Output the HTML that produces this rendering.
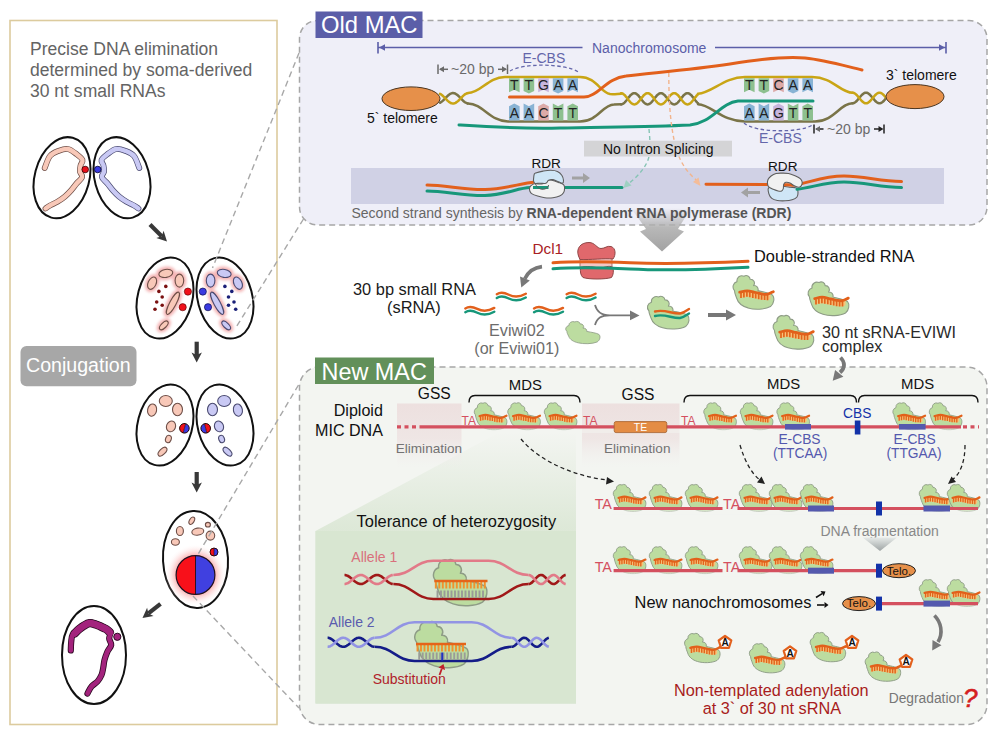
<!DOCTYPE html>
<html><head><meta charset="utf-8">
<style>
html,body{margin:0;padding:0;background:#fff;width:1000px;height:737px;overflow:hidden;}
svg{display:block;font-family:"Liberation Sans",sans-serif;}
</style></head><body>
<svg width="1000" height="737" viewBox="0 0 1000 737">
<defs>
<path id="blob" d="M0.5,15 A5.5,5.5 0 0 1 3,6 A5,5 0 0 1 10,0.6 A4,4 0 0 1 16.2,3.6 A4,4 0 0 1 19.6,10 A4,4 0 0 1 24,15 C30,16.5 36,17.5 38.5,19.5 C40.8,22 40.2,28 36.5,31 C31,34.2 20,34.3 14,32.3 C8,30.6 4,27.2 2.6,22.4 C1.6,19.4 0.5,17.5 0.5,15 Z" fill="#bcdca0" stroke="#8e9c86" stroke-width="1.1" stroke-linejoin="round"/>
<g id="comb"><path d="M5.7,16.6 L9.0,16.0 L13.1,15.2 L17.0,16.0 L21.7,16.9 L25.0,17.6 L27.9,18.3 L31.0,18.5 L33.6,18.6 L36.5,17.3 L36.5,23.3 L33.6,24.6 L31.0,24.5 L27.9,24.3 L25.0,23.6 L21.7,22.9 L17.0,22.0 L13.1,21.2 L9.0,22.0 L5.7,22.6Z" fill="#f8c27a"/><path d="M7.0,17.2 v5.2 M9.9,16.6 v5.2 M12.9,16.0 v5.2 M15.8,16.5 v5.2 M18.8,17.1 v5.2 M21.7,17.7 v5.2 M24.7,18.4 v5.2 M27.6,19.0 v5.2 M30.6,19.2 v5.2 M33.5,19.4 v5.2 " fill="none" stroke="#e0661c" stroke-width="1.7"/><path d="M5.7,16.6 C6.9,16.4 10.4,15.2 13.1,15.2 C15.8,15.2 19.2,16.4 21.7,16.9 C24.2,17.4 25.9,18.0 27.9,18.3 C29.9,18.6 31.7,19.0 33.6,18.6 C35.5,18.2 38.3,16.5 39.3,16.1" fill="none" stroke="#e2601a" stroke-width="2.8" stroke-linecap="round"/></g>
<g id="cx"><use href="#blob"/><use href="#comb"/></g>
<linearGradient id="gArrow" x1="0" y1="0" x2="0" y2="1"><stop offset="0" stop-color="#a9a9a9" stop-opacity="0"/><stop offset="0.45" stop-color="#b0b0b0" stop-opacity="0.9"/><stop offset="1" stop-color="#a2a2a2"/></linearGradient>
<linearGradient id="gTri" x1="0" y1="0" x2="0" y2="1"><stop offset="0" stop-color="#e6eae8"/><stop offset="1" stop-color="#9ea4a4"/></linearGradient>
<linearGradient id="gPink" x1="0" y1="0" x2="0" y2="1"><stop offset="0" stop-color="#ede0df"/><stop offset="0.55" stop-color="#eee4e3" stop-opacity="0.9"/><stop offset="1" stop-color="#f1eeee" stop-opacity="0"/></linearGradient>
<linearGradient id="gGreen" gradientUnits="userSpaceOnUse" x1="0" y1="432" x2="0" y2="704"><stop offset="0" stop-color="#dbe7d5" stop-opacity="0"/><stop offset="0.35" stop-color="#dbe7d5" stop-opacity="0.9"/><stop offset="1" stop-color="#d3e2cc"/></linearGradient>
<radialGradient id="gGlow"><stop offset="0.55" stop-color="#f56a6a" stop-opacity="0.9"/><stop offset="1" stop-color="#ffffff" stop-opacity="0"/></radialGradient>
<filter id="blur2" x="-50%" y="-50%" width="200%" height="200%"><feGaussianBlur stdDeviation="1.6"/></filter>
<marker id="ahG" viewBox="0 0 10 10" refX="6" refY="5" markerWidth="4" markerHeight="4" orient="auto"><path d="M0,0 L10,5 L0,10 z" fill="#7a7a7a"/></marker>
<marker id="ahK" viewBox="0 0 10 10" refX="6" refY="5" markerWidth="5" markerHeight="5" orient="auto"><path d="M0,0 L10,5 L0,10 z" fill="#222"/></marker>

</defs>
<rect x="10" y="20.5" width="267" height="704" fill="#fff" stroke="#dccb9e" stroke-width="1.6"/>
<g font-size="17.55" fill="#646464"><text x="30" y="55">Precise DNA elimination</text><text x="30" y="76">determined by soma-derived</text><text x="30" y="97">30 nt small RNAs</text></g>
<rect x="20.5" y="346" width="116" height="40.2" rx="6" fill="#a7a7a7"/>
<text x="26" y="371.5" font-size="19.6" fill="#fff">Conjugation</text>
<ellipse cx="62.0" cy="177.7" rx="27.3" ry="41.3" transform="rotate(15.0 62.0 177.7)" fill="#fff" stroke="#111" stroke-width="2"/>
<ellipse cx="122.0" cy="177.7" rx="27.3" ry="41.3" transform="rotate(-15.0 122.0 177.7)" fill="#fff" stroke="#111" stroke-width="2"/>
<path d="M44.7,168.0 C45.6,166.0 47.6,158.9 50.0,156.0 C52.4,153.1 56.0,151.9 59.0,150.7 C62.0,149.5 65.0,148.4 68.0,149.0 C71.0,149.6 74.6,152.7 77.0,154.5 C79.4,156.3 81.9,158.2 82.5,160.0 C83.1,161.8 80.9,163.6 80.5,165.5 C80.1,167.4 79.7,169.8 80.0,171.7 C80.3,173.6 82.7,175.1 82.2,177.0 C81.7,178.9 78.9,180.8 77.0,183.0 C75.1,185.2 73.0,188.2 71.0,190.5 C69.0,192.8 67.2,194.6 65.0,196.5 C62.8,198.4 60.0,200.2 57.5,201.7 C55.0,203.2 52.0,204.4 50.0,205.5 C48.0,206.6 46.2,208.0 45.5,208.5" fill="none" stroke="#6e4f48" stroke-width="5.8" stroke-linecap="round" stroke-linejoin="round"/><path d="M44.7,168.0 C45.6,166.0 47.6,158.9 50.0,156.0 C52.4,153.1 56.0,151.9 59.0,150.7 C62.0,149.5 65.0,148.4 68.0,149.0 C71.0,149.6 74.6,152.7 77.0,154.5 C79.4,156.3 81.9,158.2 82.5,160.0 C83.1,161.8 80.9,163.6 80.5,165.5 C80.1,167.4 79.7,169.8 80.0,171.7 C80.3,173.6 82.7,175.1 82.2,177.0 C81.7,178.9 78.9,180.8 77.0,183.0 C75.1,185.2 73.0,188.2 71.0,190.5 C69.0,192.8 67.2,194.6 65.0,196.5 C62.8,198.4 60.0,200.2 57.5,201.7 C55.0,203.2 52.0,204.4 50.0,205.5 C48.0,206.6 46.2,208.0 45.5,208.5" fill="none" stroke="#f8c8b8" stroke-width="4.4" stroke-linecap="round" stroke-linejoin="round"/>
<g transform="translate(184,0) scale(-1,1)"><path d="M44.7,168.0 C45.6,166.0 47.6,158.9 50.0,156.0 C52.4,153.1 56.0,151.9 59.0,150.7 C62.0,149.5 65.0,148.4 68.0,149.0 C71.0,149.6 74.6,152.7 77.0,154.5 C79.4,156.3 81.9,158.2 82.5,160.0 C83.1,161.8 80.9,163.6 80.5,165.5 C80.1,167.4 79.7,169.8 80.0,171.7 C80.3,173.6 82.7,175.1 82.2,177.0 C81.7,178.9 78.9,180.8 77.0,183.0 C75.1,185.2 73.0,188.2 71.0,190.5 C69.0,192.8 67.2,194.6 65.0,196.5 C62.8,198.4 60.0,200.2 57.5,201.7 C55.0,203.2 52.0,204.4 50.0,205.5 C48.0,206.6 46.2,208.0 45.5,208.5" fill="none" stroke="#4a4a70" stroke-width="5.8" stroke-linecap="round" stroke-linejoin="round"/><path d="M44.7,168.0 C45.6,166.0 47.6,158.9 50.0,156.0 C52.4,153.1 56.0,151.9 59.0,150.7 C62.0,149.5 65.0,148.4 68.0,149.0 C71.0,149.6 74.6,152.7 77.0,154.5 C79.4,156.3 81.9,158.2 82.5,160.0 C83.1,161.8 80.9,163.6 80.5,165.5 C80.1,167.4 79.7,169.8 80.0,171.7 C80.3,173.6 82.7,175.1 82.2,177.0 C81.7,178.9 78.9,180.8 77.0,183.0 C75.1,185.2 73.0,188.2 71.0,190.5 C69.0,192.8 67.2,194.6 65.0,196.5 C62.8,198.4 60.0,200.2 57.5,201.7 C55.0,203.2 52.0,204.4 50.0,205.5 C48.0,206.6 46.2,208.0 45.5,208.5" fill="none" stroke="#c9c9f4" stroke-width="4.4" stroke-linecap="round" stroke-linejoin="round"/></g>
<circle cx="85.2" cy="169.5" r="3.3" fill="#e8101a" stroke="#300" stroke-width="0.8"/>
<circle cx="97.7" cy="169.5" r="3.3" fill="#3a3ae0" stroke="#003" stroke-width="0.8"/>
<ellipse cx="165.0" cy="298.0" rx="27.3" ry="41.3" transform="rotate(15.0 165.0 298.0)" fill="#fff" stroke="#111" stroke-width="2"/>
<ellipse cx="225.0" cy="298.0" rx="27.3" ry="41.3" transform="rotate(-15.0 225.0 298.0)" fill="#fff" stroke="#111" stroke-width="2"/>
<g filter="url(#blur2)"><ellipse cx="152.1" cy="283.2" rx="4.0" ry="6.5" transform="rotate(25 152.1 283.2)" fill="#f4b4b4" stroke="#f4b4b4" stroke-width="5.5"/><ellipse cx="165.8" cy="273.4" rx="7.0" ry="4.0" transform="rotate(-10 165.8 273.4)" fill="#f4b4b4" stroke="#f4b4b4" stroke-width="5.5"/><ellipse cx="179.4" cy="280.6" rx="4.3" ry="6.5" transform="rotate(0 179.4 280.6)" fill="#f4b4b4" stroke="#f4b4b4" stroke-width="5.5"/><ellipse cx="172.9" cy="303.3" rx="3.2" ry="12.5" transform="rotate(28 172.9 303.3)" fill="#f4b4b4" stroke="#f4b4b4" stroke-width="5.5"/><ellipse cx="163.8" cy="325.4" rx="2.6" ry="5.5" transform="rotate(45 163.8 325.4)" fill="#f4b4b4" stroke="#f4b4b4" stroke-width="5.5"/></g><ellipse cx="152.1" cy="283.2" rx="4.0" ry="6.5" transform="rotate(25 152.1 283.2)" fill="#f8c8b8" stroke="#6e4f48" stroke-width="1.1"/><ellipse cx="165.8" cy="273.4" rx="7.0" ry="4.0" transform="rotate(-10 165.8 273.4)" fill="#f8c8b8" stroke="#6e4f48" stroke-width="1.1"/><ellipse cx="179.4" cy="280.6" rx="4.3" ry="6.5" transform="rotate(0 179.4 280.6)" fill="#f8c8b8" stroke="#6e4f48" stroke-width="1.1"/><ellipse cx="172.9" cy="303.3" rx="3.2" ry="12.5" transform="rotate(28 172.9 303.3)" fill="#f8c8b8" stroke="#6e4f48" stroke-width="1.1"/><ellipse cx="163.8" cy="325.4" rx="2.6" ry="5.5" transform="rotate(45 163.8 325.4)" fill="#f8c8b8" stroke="#6e4f48" stroke-width="1.1"/>
<g transform="translate(390,0) scale(-1,1)"><g filter="url(#blur2)"><ellipse cx="152.1" cy="283.2" rx="4.0" ry="6.5" transform="rotate(25 152.1 283.2)" fill="#f4b4b4" stroke="#f4b4b4" stroke-width="5.5"/><ellipse cx="165.8" cy="273.4" rx="7.0" ry="4.0" transform="rotate(-10 165.8 273.4)" fill="#f4b4b4" stroke="#f4b4b4" stroke-width="5.5"/><ellipse cx="179.4" cy="280.6" rx="4.3" ry="6.5" transform="rotate(0 179.4 280.6)" fill="#f4b4b4" stroke="#f4b4b4" stroke-width="5.5"/><ellipse cx="172.9" cy="303.3" rx="3.2" ry="12.5" transform="rotate(28 172.9 303.3)" fill="#f4b4b4" stroke="#f4b4b4" stroke-width="5.5"/><ellipse cx="163.8" cy="325.4" rx="2.6" ry="5.5" transform="rotate(45 163.8 325.4)" fill="#f4b4b4" stroke="#f4b4b4" stroke-width="5.5"/></g><ellipse cx="152.1" cy="283.2" rx="4.0" ry="6.5" transform="rotate(25 152.1 283.2)" fill="#c9c9f4" stroke="#4a4a70" stroke-width="1.1"/><ellipse cx="165.8" cy="273.4" rx="7.0" ry="4.0" transform="rotate(-10 165.8 273.4)" fill="#c9c9f4" stroke="#4a4a70" stroke-width="1.1"/><ellipse cx="179.4" cy="280.6" rx="4.3" ry="6.5" transform="rotate(0 179.4 280.6)" fill="#c9c9f4" stroke="#4a4a70" stroke-width="1.1"/><ellipse cx="172.9" cy="303.3" rx="3.2" ry="12.5" transform="rotate(28 172.9 303.3)" fill="#c9c9f4" stroke="#4a4a70" stroke-width="1.1"/><ellipse cx="163.8" cy="325.4" rx="2.6" ry="5.5" transform="rotate(45 163.8 325.4)" fill="#c9c9f4" stroke="#4a4a70" stroke-width="1.1"/></g>
<circle cx="165.8" cy="286.4" r="1.8" fill="#7a1010"/>
<circle cx="224.9" cy="286.4" r="1.8" fill="#1a2078"/>
<circle cx="158.9" cy="291.4" r="1.8" fill="#7a1010"/>
<circle cx="231.8" cy="291.4" r="1.8" fill="#1a2078"/>
<circle cx="162.2" cy="297.0" r="1.8" fill="#7a1010"/>
<circle cx="228.5" cy="297.0" r="1.8" fill="#1a2078"/>
<circle cx="156.7" cy="302.0" r="1.8" fill="#7a1010"/>
<circle cx="234.0" cy="302.0" r="1.8" fill="#1a2078"/>
<circle cx="162.2" cy="305.3" r="1.8" fill="#7a1010"/>
<circle cx="228.5" cy="305.3" r="1.8" fill="#1a2078"/>
<circle cx="155.0" cy="309.2" r="1.8" fill="#7a1010"/>
<circle cx="235.7" cy="309.2" r="1.8" fill="#1a2078"/>
<circle cx="187.9" cy="291.6" r="3.6" fill="#f0101a" stroke="#500" stroke-width="0.6"/><circle cx="182.7" cy="307.2" r="3.6" fill="#f0101a" stroke="#500" stroke-width="0.6"/>
<circle cx="202.8" cy="291.6" r="3.6" fill="#3a3ae0" stroke="#003" stroke-width="0.6"/><circle cx="208" cy="307.2" r="3.6" fill="#3a3ae0" stroke="#003" stroke-width="0.6"/>
<ellipse cx="165.0" cy="425.0" rx="27.3" ry="41.3" transform="rotate(15.0 165.0 425.0)" fill="#fff" stroke="#111" stroke-width="2"/>
<ellipse cx="225.0" cy="425.0" rx="27.3" ry="41.3" transform="rotate(-15.0 225.0 425.0)" fill="#fff" stroke="#111" stroke-width="2"/>
<ellipse cx="165.8" cy="401.0" rx="6.5" ry="5.5" transform="rotate(0 165.8 401.0)" fill="#f8c8b8" stroke="#6e4f48" stroke-width="1.1"/><ellipse cx="152.1" cy="410.1" rx="4.5" ry="6.2" transform="rotate(10 152.1 410.1)" fill="#f8c8b8" stroke="#6e4f48" stroke-width="1.1"/><ellipse cx="177.5" cy="409.5" rx="5.0" ry="6.3" transform="rotate(0 177.5 409.5)" fill="#f8c8b8" stroke="#6e4f48" stroke-width="1.1"/><ellipse cx="171.0" cy="426.4" rx="4.5" ry="5.5" transform="rotate(20 171.0 426.4)" fill="#f8c8b8" stroke="#6e4f48" stroke-width="1.1"/><ellipse cx="168.4" cy="439.0" rx="2.8" ry="3.8" transform="rotate(20 168.4 439.0)" fill="#f8c8b8" stroke="#6e4f48" stroke-width="1.1"/><ellipse cx="162.5" cy="451.7" rx="2.8" ry="5.5" transform="rotate(45 162.5 451.7)" fill="#f8c8b8" stroke="#6e4f48" stroke-width="1.1"/>
<g transform="translate(390,0) scale(-1,1)"><ellipse cx="165.8" cy="401.0" rx="6.5" ry="5.5" transform="rotate(0 165.8 401.0)" fill="#c9c9f4" stroke="#4a4a70" stroke-width="1.1"/><ellipse cx="152.1" cy="410.1" rx="4.5" ry="6.2" transform="rotate(10 152.1 410.1)" fill="#c9c9f4" stroke="#4a4a70" stroke-width="1.1"/><ellipse cx="177.5" cy="409.5" rx="5.0" ry="6.3" transform="rotate(0 177.5 409.5)" fill="#c9c9f4" stroke="#4a4a70" stroke-width="1.1"/><ellipse cx="171.0" cy="426.4" rx="4.5" ry="5.5" transform="rotate(20 171.0 426.4)" fill="#c9c9f4" stroke="#4a4a70" stroke-width="1.1"/><ellipse cx="168.4" cy="439.0" rx="2.8" ry="3.8" transform="rotate(20 168.4 439.0)" fill="#c9c9f4" stroke="#4a4a70" stroke-width="1.1"/><ellipse cx="162.5" cy="451.7" rx="2.8" ry="5.5" transform="rotate(45 162.5 451.7)" fill="#c9c9f4" stroke="#4a4a70" stroke-width="1.1"/></g>
<g transform="rotate(15 184.4 428.3)"><path d="M184.4,423.5 A4.8,4.8 0 0 0 184.4,433.1 Z" fill="#f0101a"/><path d="M184.4,423.5 A4.8,4.8 0 0 1 184.4,433.1 Z" fill="#3a3ae0"/><line x1="184.4" y1="423.5" x2="184.4" y2="433.1" stroke="#300" stroke-width="0.6"/><circle cx="184.4" cy="428.3" r="4.8" fill="none" stroke="#200" stroke-width="0.9"/></g>
<g transform="rotate(-15 205.7 428.3)"><path d="M205.7,423.5 A4.8,4.8 0 0 0 205.7,433.1 Z" fill="#3a3ae0"/><path d="M205.7,423.5 A4.8,4.8 0 0 1 205.7,433.1 Z" fill="#f0101a"/><line x1="205.7" y1="423.5" x2="205.7" y2="433.1" stroke="#300" stroke-width="0.6"/><circle cx="205.7" cy="428.3" r="4.8" fill="none" stroke="#200" stroke-width="0.9"/></g>
<ellipse cx="195.5" cy="559.5" rx="32.5" ry="48.5" transform="rotate(-3.0 195.5 559.5)" fill="#fff" stroke="#111" stroke-width="2"/>
<circle cx="195.5" cy="575" r="31" fill="url(#gGlow)" opacity="0.8"/>
<ellipse cx="191.8" cy="520.7" rx="2.3" ry="4.0" transform="rotate(30 191.8 520.7)" fill="#f8c8b8" stroke="#6e4f48" stroke-width="1.1"/><ellipse cx="179.9" cy="531.0" rx="3.5" ry="4.5" transform="rotate(0 179.9 531.0)" fill="#f8c8b8" stroke="#6e4f48" stroke-width="1.1"/><ellipse cx="197.8" cy="531.6" rx="6.0" ry="3.5" transform="rotate(-10 197.8 531.6)" fill="#f8c8b8" stroke="#6e4f48" stroke-width="1.1"/><ellipse cx="207.9" cy="524.7" rx="2.5" ry="2.3" transform="rotate(0 207.9 524.7)" fill="#f8c8b8" stroke="#6e4f48" stroke-width="1.1"/><ellipse cx="210.4" cy="535.6" rx="4.3" ry="4.5" transform="rotate(0 210.4 535.6)" fill="#f8c8b8" stroke="#6e4f48" stroke-width="1.1"/><ellipse cx="175.4" cy="542.0" rx="4.0" ry="3.3" transform="rotate(0 175.4 542.0)" fill="#f8c8b8" stroke="#6e4f48" stroke-width="1.1"/>
<g transform="rotate(0 214.0 552.0)"><path d="M214.0,548.0 A4.0,4.0 0 0 0 214.0,556.0 Z" fill="#f0101a"/><path d="M214.0,548.0 A4.0,4.0 0 0 1 214.0,556.0 Z" fill="#3a3ae0"/><line x1="214.0" y1="548.0" x2="214.0" y2="556.0" stroke="#300" stroke-width="0.6"/><circle cx="214.0" cy="552.0" r="4.0" fill="none" stroke="#200" stroke-width="0.9"/></g>
<path d="M195.5,555.6 A19.4,19.4 0 0 0 195.5,594.4 Z" fill="#f8101a"/><path d="M195.5,555.6 A19.4,19.4 0 0 1 195.5,594.4 Z" fill="#4040e0"/><line x1="195.5" y1="555.6" x2="195.5" y2="594.4" stroke="#301020" stroke-width="1"/><circle cx="195.5" cy="575" r="19.4" fill="none" stroke="#201020" stroke-width="1.2"/>
<ellipse cx="94.0" cy="655.0" rx="32.0" ry="49.0" transform="rotate(0.0 94.0 655.0)" fill="#fff" stroke="#111" stroke-width="2"/>
<g fill="none" stroke-linecap="round" stroke-linejoin="round"><path d="M70.8,650.5 C70.9,649.1 70.9,644.6 71.2,642.0 C71.5,639.4 71.4,637.1 72.5,635.0 C73.6,632.9 76.1,631.2 78.0,629.5 C79.9,627.8 82.1,626.2 84.0,625.0 C85.9,623.8 87.7,622.8 89.5,622.5 C91.3,622.2 93.2,623.0 95.0,623.5 C96.8,624.0 98.2,624.7 100.0,625.5 C101.8,626.3 104.2,627.3 106.0,628.5 C107.8,629.7 110.0,630.8 110.5,632.5 C111.0,634.2 109.1,636.4 109.2,638.5 C109.3,640.6 111.5,642.8 111.2,645.0 C110.9,647.2 108.6,649.0 107.5,651.5 C106.4,654.0 105.2,657.2 104.5,660.0 C103.8,662.8 103.7,665.5 103.2,668.0 C102.7,670.5 102.5,672.8 101.5,675.0 C100.5,677.2 99.2,679.6 97.5,681.5 C95.8,683.4 93.2,684.5 91.5,686.5 C89.8,688.5 88.2,692.3 87.5,693.5" stroke="#2a0820" stroke-width="6.2"/><path d="M74.5,633.5 C75.3,632.8 77.7,630.3 79.3,629.0 C80.9,627.7 82.3,626.6 84.0,625.6 C85.7,624.6 87.7,623.4 89.5,623.2 C91.3,623.0 93.2,623.7 95.0,624.2 C96.8,624.7 98.2,625.4 100.0,626.2 C101.8,627.0 104.3,628.0 106.0,629.0 C107.7,630.0 109.3,631.9 110.0,632.5" stroke="#2a0820" stroke-width="8.4"/><path d="M70.8,650.5 C70.9,649.1 70.9,644.6 71.2,642.0 C71.5,639.4 71.4,637.1 72.5,635.0 C73.6,632.9 76.1,631.2 78.0,629.5 C79.9,627.8 82.1,626.2 84.0,625.0 C85.9,623.8 87.7,622.8 89.5,622.5 C91.3,622.2 93.2,623.0 95.0,623.5 C96.8,624.0 98.2,624.7 100.0,625.5 C101.8,626.3 104.2,627.3 106.0,628.5 C107.8,629.7 110.0,630.8 110.5,632.5 C111.0,634.2 109.1,636.4 109.2,638.5 C109.3,640.6 111.5,642.8 111.2,645.0 C110.9,647.2 108.6,649.0 107.5,651.5 C106.4,654.0 105.2,657.2 104.5,660.0 C103.8,662.8 103.7,665.5 103.2,668.0 C102.7,670.5 102.5,672.8 101.5,675.0 C100.5,677.2 99.2,679.6 97.5,681.5 C95.8,683.4 93.2,684.5 91.5,686.5 C89.8,688.5 88.2,692.3 87.5,693.5" stroke="#a3237d" stroke-width="4.6"/><path d="M74.5,633.5 C75.3,632.8 77.7,630.3 79.3,629.0 C80.9,627.7 82.3,626.6 84.0,625.6 C85.7,624.6 87.7,623.4 89.5,623.2 C91.3,623.0 93.2,623.7 95.0,624.2 C96.8,624.7 98.2,625.4 100.0,626.2 C101.8,627.0 104.3,628.0 106.0,629.0 C107.7,630.0 109.3,631.9 110.0,632.5" stroke="#a3237d" stroke-width="6.8"/></g>
<circle cx="117.3" cy="636.8" r="4.6" fill="#fff"/><circle cx="117.3" cy="636.8" r="3.6" fill="#a3237d" stroke="#2a0820" stroke-width="1"/>
<line x1="150.0" y1="224.5" x2="161.7" y2="236.2" stroke="#383838" stroke-width="4.2"/><path d="M167.0,241.5 L156.3,238.1 L161.7,236.2 L163.6,230.8 Z" fill="#383838"/>
<line x1="196.7" y1="341.7" x2="196.7" y2="355.1" stroke="#383838" stroke-width="4.2"/><path d="M196.7,362.6 L191.5,352.6 L196.7,355.1 L201.9,352.6 Z" fill="#383838"/>
<line x1="196.7" y1="472.0" x2="196.7" y2="485.0" stroke="#383838" stroke-width="4.2"/><path d="M196.7,492.5 L191.5,482.5 L196.7,485.0 L201.9,482.5 Z" fill="#383838"/>
<line x1="160.5" y1="603.8" x2="148.4" y2="613.4" stroke="#383838" stroke-width="4.2"/><path d="M142.5,618.0 L147.1,607.7 L148.4,613.4 L153.6,615.9 Z" fill="#383838"/>
<rect x="299.5" y="20.5" width="687.5" height="204.5" rx="18" fill="#efeff8" stroke="#a6a6a6" stroke-width="1.5" stroke-dasharray="6 4"/>
<rect x="315.5" y="11.5" width="107" height="26.5" fill="#5b5ea8"/>
<text x="321" y="33" font-size="23.8" fill="#fff">Old MAC</text>
<g stroke="#5b5ea8" stroke-width="1.6" fill="none"><line x1="378" y1="47.5" x2="582.5" y2="47.5"/><line x1="715" y1="47.5" x2="946" y2="47.5"/><line x1="378" y1="42" x2="378" y2="53.5"/><line x1="946" y1="42" x2="946" y2="53.5"/></g>
<path d="M379,47.5 l6,-3.2 v6.4z M945,47.5 l-6,-3.2 v6.4z" fill="#5b5ea8"/>
<text x="592" y="52.5" font-size="14" fill="#5b5ea8">Nanochromosome</text>
<g fill="none" stroke-width="2.5" stroke-linecap="round">
<path d="M468,103.5 C483,103.6 490,121.5 508,121.5 L580,121.5 C598,121.5 602,105 614,104.5 C617,104.3 619,104.3 621,104.3" stroke="#7a7448"/>
<path d="M698,104.3 C712,105 722,121.5 745,121.5 L815,121.5 C834,121.5 840,103.3 852.5,103.3" stroke="#7a7448"/>
<path d="M440.0,102.8 L440.6,102.5 L441.2,102.1 L441.8,101.6 L442.4,101.1 L443.0,100.6 L443.6,100.0 L444.2,99.4 L444.8,98.8 L445.4,98.1 L446.0,97.5 L446.6,96.9 L447.2,96.3 L447.8,95.7 L448.4,95.2 L449.0,94.7 L449.6,94.3 L450.2,93.9 L450.8,93.6 L451.4,93.4 L452.0,93.2 L452.6,93.1 L453.2,93.1 L453.8,93.2 L454.4,93.3 L455.0,93.5 L455.6,93.8 L456.2,94.2 L456.8,94.6 L457.4,95.0 L458.0,95.5 L458.6,96.1 L459.2,96.7 L459.8,97.3 L460.4,97.9 L461.0,98.6 L461.6,99.2 L462.2,99.8 L462.8,100.4 L463.4,101.0 L464.0,101.5 L464.6,102.0 L465.2,102.4 L465.8,102.7 L466.4,103.0 L467.0,103.3 L467.6,103.4" stroke="#7a7448"/>
<path d="M621.0,104.4 L621.7,104.3 L622.4,104.1 L623.1,103.7 L623.8,103.2 L624.5,102.6 L625.2,101.9 L625.9,101.0 L626.6,100.2 L627.3,99.3 L628.0,98.3 L628.7,97.4 L629.4,96.6 L630.1,95.7 L630.8,95.0 L631.5,94.4 L632.2,93.9 L632.9,93.5 L633.6,93.3 L634.3,93.2 L635.0,93.3 L635.7,93.5 L636.4,93.9 L637.1,94.4 L637.8,95.0 L638.5,95.7 L639.2,96.6 L639.9,97.4 L640.6,98.3 L641.3,99.3 L642.0,100.2 L642.7,101.0 L643.4,101.9 L644.1,102.6 L644.8,103.2 L645.5,103.7 L646.2,104.1 L646.9,104.3 L647.6,104.4 L648.3,104.3 L649.0,104.1 L649.7,103.7 L650.4,103.2 L651.1,102.6 L651.8,101.9 L652.5,101.0 L653.2,100.2 L653.9,99.3 L654.6,98.3 L655.3,97.4 L656.0,96.6 L656.7,95.7 L657.4,95.0 L658.1,94.4 L658.8,93.9 L659.5,93.5 L660.2,93.3 L660.9,93.2 L661.6,93.3 L662.3,93.5 L663.0,93.9 L663.7,94.4 L664.4,95.0 L665.1,95.7 L665.8,96.6 L666.5,97.4 L667.2,98.3 L667.9,99.3 L668.6,100.2 L669.3,101.0 L670.0,101.9 L670.7,102.6 L671.4,103.2 L672.1,103.7 L672.8,104.1 L673.5,104.3 L674.2,104.4 L674.9,104.3 L675.6,104.1 L676.3,103.7 L677.0,103.2 L677.7,102.6 L678.4,101.9 L679.1,101.0 L679.8,100.2 L680.5,99.3 L681.2,98.3 L681.9,97.4 L682.6,96.6 L683.3,95.7 L684.0,95.0 L684.7,94.4 L685.4,93.9 L686.1,93.5 L686.8,93.3 L687.5,93.2 L688.2,93.3 L688.9,93.5 L689.6,93.9 L690.3,94.4 L691.0,95.0 L691.7,95.7 L692.4,96.6 L693.1,97.4 L693.8,98.3 L694.5,99.3 L695.2,100.2 L695.9,101.0 L696.6,101.9 L697.3,102.6 L698.0,103.2" stroke="#7a7448"/>
<path d="M852.5,103.3 L853.1,103.2 L853.7,103.1 L854.3,102.8 L854.9,102.5 L855.5,102.1 L856.1,101.5 L856.7,101.0 L857.3,100.3 L857.9,99.6 L858.5,98.9 L859.1,98.2 L859.7,97.4 L860.3,96.7 L860.9,96.0 L861.5,95.3 L862.1,94.7 L862.7,94.2 L863.3,93.7 L863.9,93.3 L864.5,93.0 L865.1,92.8 L865.7,92.7 L866.3,92.7 L866.9,92.8 L867.5,93.0 L868.1,93.3 L868.7,93.7 L869.3,94.2 L869.9,94.7 L870.5,95.4 L871.1,96.0 L871.7,96.7 L872.3,97.4 L872.9,98.2 L873.5,98.9 L874.1,99.6 L874.7,100.3 L875.3,101.0 L875.9,101.5 L876.5,102.1 L877.1,102.5 L877.7,102.8 L878.3,103.1 L878.9,103.2 L879.5,103.3 L880.1,103.2 L880.7,103.1 L881.3,102.8 L881.9,102.5 L882.5,102.1 L883.1,101.5 L883.7,101.0 L884.3,100.3 L884.9,99.6 L885.5,98.9" stroke="#7a7448"/>
<path d="M468,93.1 C481,93 488,77 505,77 L580,77 C596,77 600,92 610,94 C614,94.5 618,93.7 621,93.7" stroke="#c9a515"/>
<path d="M698,93.7 C712,93 724,77 745,77 L812,77 C833,77 840,92.7 852.5,92.7" stroke="#c9a515"/>
<path d="M440.0,93.8 L440.6,94.1 L441.2,94.5 L441.8,95.0 L442.4,95.5 L443.0,96.0 L443.6,96.6 L444.2,97.2 L444.8,97.8 L445.4,98.5 L446.0,99.1 L446.6,99.7 L447.2,100.3 L447.8,100.9 L448.4,101.4 L449.0,101.9 L449.6,102.3 L450.2,102.7 L450.8,103.0 L451.4,103.2 L452.0,103.4 L452.6,103.5 L453.2,103.5 L453.8,103.4 L454.4,103.3 L455.0,103.1 L455.6,102.8 L456.2,102.4 L456.8,102.0 L457.4,101.6 L458.0,101.1 L458.6,100.5 L459.2,99.9 L459.8,99.3 L460.4,98.7 L461.0,98.0 L461.6,97.4 L462.2,96.8 L462.8,96.2 L463.4,95.6 L464.0,95.1 L464.6,94.6 L465.2,94.2 L465.8,93.9 L466.4,93.6 L467.0,93.3 L467.6,93.2" stroke="#c9a515"/>
<path d="M621.0,93.2 L621.7,93.3 L622.4,93.5 L623.1,93.9 L623.8,94.4 L624.5,95.0 L625.2,95.7 L625.9,96.6 L626.6,97.4 L627.3,98.3 L628.0,99.3 L628.7,100.2 L629.4,101.0 L630.1,101.9 L630.8,102.6 L631.5,103.2 L632.2,103.7 L632.9,104.1 L633.6,104.3 L634.3,104.4 L635.0,104.3 L635.7,104.1 L636.4,103.7 L637.1,103.2 L637.8,102.6 L638.5,101.9 L639.2,101.0 L639.9,100.2 L640.6,99.3 L641.3,98.3 L642.0,97.4 L642.7,96.6 L643.4,95.7 L644.1,95.0 L644.8,94.4 L645.5,93.9 L646.2,93.5 L646.9,93.3 L647.6,93.2 L648.3,93.3 L649.0,93.5 L649.7,93.9 L650.4,94.4 L651.1,95.0 L651.8,95.7 L652.5,96.6 L653.2,97.4 L653.9,98.3 L654.6,99.3 L655.3,100.2 L656.0,101.0 L656.7,101.9 L657.4,102.6 L658.1,103.2 L658.8,103.7 L659.5,104.1 L660.2,104.3 L660.9,104.4 L661.6,104.3 L662.3,104.1 L663.0,103.7 L663.7,103.2 L664.4,102.6 L665.1,101.9 L665.8,101.0 L666.5,100.2 L667.2,99.3 L667.9,98.3 L668.6,97.4 L669.3,96.6 L670.0,95.7 L670.7,95.0 L671.4,94.4 L672.1,93.9 L672.8,93.5 L673.5,93.3 L674.2,93.2 L674.9,93.3 L675.6,93.5 L676.3,93.9 L677.0,94.4 L677.7,95.0 L678.4,95.7 L679.1,96.6 L679.8,97.4 L680.5,98.3 L681.2,99.3 L681.9,100.2 L682.6,101.0 L683.3,101.9 L684.0,102.6 L684.7,103.2 L685.4,103.7 L686.1,104.1 L686.8,104.3 L687.5,104.4 L688.2,104.3 L688.9,104.1 L689.6,103.7 L690.3,103.2 L691.0,102.6 L691.7,101.9 L692.4,101.0 L693.1,100.2 L693.8,99.3 L694.5,98.3 L695.2,97.4 L695.9,96.6 L696.6,95.7 L697.3,95.0 L698.0,94.4" stroke="#c9a515"/>
<path d="M852.5,92.7 L853.1,92.8 L853.7,92.9 L854.3,93.2 L854.9,93.5 L855.5,93.9 L856.1,94.5 L856.7,95.0 L857.3,95.7 L857.9,96.4 L858.5,97.1 L859.1,97.8 L859.7,98.6 L860.3,99.3 L860.9,100.0 L861.5,100.7 L862.1,101.3 L862.7,101.8 L863.3,102.3 L863.9,102.7 L864.5,103.0 L865.1,103.2 L865.7,103.3 L866.3,103.3 L866.9,103.2 L867.5,103.0 L868.1,102.7 L868.7,102.3 L869.3,101.8 L869.9,101.3 L870.5,100.6 L871.1,100.0 L871.7,99.3 L872.3,98.6 L872.9,97.8 L873.5,97.1 L874.1,96.4 L874.7,95.7 L875.3,95.0 L875.9,94.5 L876.5,93.9 L877.1,93.5 L877.7,93.2 L878.3,92.9 L878.9,92.8 L879.5,92.7 L880.1,92.8 L880.7,92.9 L881.3,93.2 L881.9,93.5 L882.5,93.9 L883.1,94.5 L883.7,95.0 L884.3,95.7 L884.9,96.4 L885.5,97.1" stroke="#c9a515"/>
</g>
<path d="M509.5,97 L584,97 C598,97 606,78 626,76 C650,73 690,70 730,64 C760,59 785,56 805,58 C825,60 845,66 862,70" fill="none" stroke="#e2601c" stroke-width="3" stroke-linecap="round"/>
<path d="M459,125 C490,127 520,129 560,128 C600,127 650,127 690,125 C712,123 720,103 738,101 L813,101" fill="none" stroke="#17977a" stroke-width="3" stroke-linecap="round"/>
<ellipse cx="411" cy="98.7" rx="29" ry="11.8" fill="#e6904a" stroke="#4a3520" stroke-width="1"/>
<ellipse cx="915" cy="96.6" rx="29" ry="12" fill="#e6904a" stroke="#4a3520" stroke-width="1"/>
<text x="367" y="123" font-size="14" fill="#111">5` telomere</text>
<text x="886" y="79.8" font-size="14" fill="#111">3` telomere</text>
<path d="M509.0,78.3 h10.6 v14.0 l-5.3,-2.6 l-5.3,2.6 z" fill="#8ec08f"/><text x="514.3" y="90.0" font-size="14" fill="#222" text-anchor="middle">T</text><path d="M523.6,78.3 h10.6 v12.7 l-5.3,2.6 l-5.3,-2.6 z" fill="#8ec08f"/><text x="528.9" y="90.0" font-size="14" fill="#222" text-anchor="middle">T</text><path d="M538.2,78.3 h10.6 v14.0 l-5.3,-2.6 l-5.3,2.6 z" fill="#c8b5dc"/><text x="543.5" y="90.0" font-size="14" fill="#222" text-anchor="middle">G</text><path d="M552.8,78.3 h10.6 v12.7 l-5.3,2.6 l-5.3,-2.6 z" fill="#89b3d4"/><text x="558.1" y="90.0" font-size="14" fill="#222" text-anchor="middle">A</text><path d="M567.4,78.3 h10.6 v14.0 l-5.3,-2.6 l-5.3,2.6 z" fill="#89b3d4"/><text x="572.7" y="90.0" font-size="14" fill="#222" text-anchor="middle">A</text>
<path d="M509.0,106.2 l5.3,-2.6 l5.3,2.6 v14.4 h-10.6 z" fill="#89b3d4"/><text x="514.3" y="118.0" font-size="14" fill="#222" text-anchor="middle">A</text><path d="M523.6,103.6 l5.3,2.6 l5.3,-2.6 v17.0 h-10.6 z" fill="#89b3d4"/><text x="528.9" y="118.0" font-size="14" fill="#222" text-anchor="middle">A</text><path d="M538.2,106.2 l5.3,-2.6 l5.3,2.6 v14.4 h-10.6 z" fill="#dcaaa8"/><text x="543.5" y="118.0" font-size="14" fill="#222" text-anchor="middle">C</text><path d="M552.8,103.6 l5.3,2.6 l5.3,-2.6 v17.0 h-10.6 z" fill="#8ec08f"/><text x="558.1" y="118.0" font-size="14" fill="#222" text-anchor="middle">T</text><path d="M567.4,106.2 l5.3,-2.6 l5.3,2.6 v14.4 h-10.6 z" fill="#8ec08f"/><text x="572.7" y="118.0" font-size="14" fill="#222" text-anchor="middle">T</text>
<path d="M744.0,78.3 h10.6 v14.0 l-5.3,-2.6 l-5.3,2.6 z" fill="#8ec08f"/><text x="749.3" y="90.0" font-size="14" fill="#222" text-anchor="middle">T</text><path d="M758.6,78.3 h10.6 v12.7 l-5.3,2.6 l-5.3,-2.6 z" fill="#8ec08f"/><text x="763.9" y="90.0" font-size="14" fill="#222" text-anchor="middle">T</text><path d="M773.2,78.3 h10.6 v14.0 l-5.3,-2.6 l-5.3,2.6 z" fill="#dcaaa8"/><text x="778.5" y="90.0" font-size="14" fill="#222" text-anchor="middle">C</text><path d="M787.8,78.3 h10.6 v12.7 l-5.3,2.6 l-5.3,-2.6 z" fill="#89b3d4"/><text x="793.1" y="90.0" font-size="14" fill="#222" text-anchor="middle">A</text><path d="M802.4,78.3 h10.6 v14.0 l-5.3,-2.6 l-5.3,2.6 z" fill="#89b3d4"/><text x="807.7" y="90.0" font-size="14" fill="#222" text-anchor="middle">A</text>
<path d="M744.0,106.2 l5.3,-2.6 l5.3,2.6 v14.4 h-10.6 z" fill="#89b3d4"/><text x="749.3" y="118.0" font-size="14" fill="#222" text-anchor="middle">A</text><path d="M758.6,103.6 l5.3,2.6 l5.3,-2.6 v17.0 h-10.6 z" fill="#89b3d4"/><text x="763.9" y="118.0" font-size="14" fill="#222" text-anchor="middle">A</text><path d="M773.2,106.2 l5.3,-2.6 l5.3,2.6 v14.4 h-10.6 z" fill="#c8b5dc"/><text x="778.5" y="118.0" font-size="14" fill="#222" text-anchor="middle">G</text><path d="M787.8,103.6 l5.3,2.6 l5.3,-2.6 v17.0 h-10.6 z" fill="#8ec08f"/><text x="793.1" y="118.0" font-size="14" fill="#222" text-anchor="middle">T</text><path d="M802.4,106.2 l5.3,-2.6 l5.3,2.6 v14.4 h-10.6 z" fill="#8ec08f"/><text x="807.7" y="118.0" font-size="14" fill="#222" text-anchor="middle">T</text>
<path d="M510,71 C522,63 566,63 579,72.5" fill="none" stroke="#6466aa" stroke-width="1.3" stroke-dasharray="3.5 2.5"/>
<text x="522.5" y="63" font-size="14" fill="#6466aa">E-CBS</text>
<path d="M744,123 C755,133 800,133 812.5,125" fill="none" stroke="#6466aa" stroke-width="1.3" stroke-dasharray="3.5 2.5"/>
<text x="759" y="143" font-size="14" fill="#6466aa">E-CBS</text>
<g stroke="#6a6a6a" stroke-width="1.5" fill="none"><line x1="438" y1="64.5" x2="438" y2="74"/><line x1="440" y1="69.3" x2="448" y2="69.3"/><line x1="498" y1="69.3" x2="506" y2="69.3"/><line x1="507.5" y1="64.5" x2="507.5" y2="74"/></g>
<path d="M439,69.3 l5,-3 v6z M507,69.3 l-5,-3 v6z" fill="#6a6a6a"/>
<text x="451" y="74" font-size="14" fill="#6a6a6a">~20 bp</text>
<g stroke="#222" stroke-width="1.5" fill="none"><line x1="814" y1="124.5" x2="814" y2="133.5"/><line x1="816" y1="129" x2="823.5" y2="129"/><line x1="874" y1="129" x2="882" y2="129"/><line x1="884" y1="124.5" x2="884" y2="133.5"/></g>
<path d="M815,129 l5,-3 v6z" fill="#6a6a6a"/><path d="M883.5,129 l-5,-3 v6z" fill="#222"/>
<text x="827" y="134" font-size="14" fill="#6a6a6a">~20 bp</text>
<rect x="351" y="168" width="593" height="36" fill="#d0d1e5"/>
<path d="M649,129 C650,140 651,152 648,160 C644,170 636,178 628,184" fill="none" stroke="#86c4b4" stroke-width="1.4" stroke-dasharray="4 3"/>
<path d="M623.5,188 l2.5,-8 l5.5,5.5z" fill="#9ed0c2"/>
<path d="M668.8,73 C668.8,100 670,125 676,148 C681,165 689,174 696.5,180" fill="none" stroke="#f2b48c" stroke-width="1.4" stroke-dasharray="4 3"/>
<path d="M700.5,186 l-7.5,-4 l5.5,-4.5z" fill="#f4bc98"/>
<rect x="584" y="140.7" width="148" height="15.8" fill="#d4d4d6"/>
<text x="603" y="153.6" font-size="14" fill="#111">No Intron Splicing</text>
<path d="M427,185 C445,185 465,190 485,189.5 C505,189 520,183.5 535,182" fill="none" stroke="#e2601c" stroke-width="3" stroke-linecap="round"/>
<path d="M427,191 C445,191 465,196 485,195.5 C505,195 518,188 530,187.6 L622,187.6" fill="none" stroke="#17977a" stroke-width="3" stroke-linecap="round"/>
<path d="M529.6,187.9 C529.8,187.0 530.2,186.4 531.0,185.7 C531.8,185.0 533.0,184.0 534.3,183.7 C535.6,183.4 537.1,184.0 538.7,184.0 C540.3,184.0 542.4,183.9 543.7,183.5 C545.0,183.1 545.5,181.9 546.4,181.3 C547.3,180.7 548.3,180.1 549.2,179.9 C550.1,179.7 550.4,179.8 551.9,180.2 C553.4,180.6 556.6,181.7 558.5,182.4 C560.4,183.1 562.5,183.7 563.5,184.6 C564.5,185.5 564.6,186.5 564.6,187.9 C564.6,189.3 564.3,191.4 563.5,192.8 C562.7,194.2 561.4,195.3 559.6,196.1 C557.9,196.9 555.5,197.5 553.0,197.8 C550.5,198.1 547.4,198.1 544.8,197.8 C542.2,197.5 539.7,196.8 537.6,196.1 C535.5,195.4 533.4,194.7 532.1,193.9 C530.8,193.1 530.3,192.2 529.9,191.2 C529.5,190.2 529.4,188.8 529.6,187.9Z" fill="#f1f1f1" stroke="#5e5e5e" stroke-width="1.1" stroke-linejoin="round"/>
<path d="M533,187.5 L548.5,187.4" stroke="#17977a" stroke-width="3"/>
<path d="M535.4,183.8 C537,187.8 540,189.4 543.1,189.3 C546,189.1 548.4,187.4 548.6,185" fill="none" stroke="#5e5e5e" stroke-width="1"/>
<path d="M533.5,179.6 C533.6,178.3 533.8,175.2 534.3,174.1 C534.8,172.9 535.0,173.2 536.5,172.7 C538.0,172.2 540.7,171.5 543.1,171.1 C545.5,170.7 548.4,170.2 550.8,170.3 C553.2,170.4 555.6,170.6 557.4,171.4 C559.2,172.2 560.8,173.7 561.8,175.2 C562.8,176.7 563.4,178.9 563.5,180.2 C563.6,181.5 563.2,182.9 562.4,183.2 C561.6,183.5 560.1,182.4 558.5,181.8 C556.9,181.2 554.6,179.9 553.0,179.6 C551.4,179.3 549.6,179.7 548.6,180.2 C547.6,180.7 547.6,181.8 547.0,182.4 C546.4,183.0 546.0,183.4 544.8,183.5 C543.6,183.6 541.4,183.2 539.8,183.2 C538.2,183.2 536.4,183.7 535.4,183.5 C534.4,183.3 534.1,182.5 533.8,181.8 C533.5,181.2 533.4,180.9 533.5,179.6Z" fill="#cfe6f6" stroke="#5e5e5e" stroke-width="1.1" stroke-linejoin="round"/>
<path d="M768.6,187.9 C767.4,189.2 768.5,192.4 769.0,194.2 C769.5,195.9 770.4,197.3 771.8,198.4 C773.2,199.5 775.2,200.1 777.4,200.5 C779.6,200.9 782.6,200.9 785.1,200.8 C787.6,200.7 790.1,200.4 792.1,199.8 C794.1,199.2 796.0,198.2 797.0,197.0 C798.0,195.8 798.0,194.2 798.0,192.8 C798.0,191.4 797.8,189.5 797.3,188.6 C796.8,187.7 796.1,187.8 794.9,187.6 C793.7,187.4 791.6,187.4 790.0,187.2 C788.4,187.0 787.3,186.6 785.0,186.5 C782.7,186.4 778.7,186.3 776.0,186.5 C773.3,186.7 769.8,186.6 768.6,187.9Z" fill="#cfe6f6" stroke="#5e5e5e" stroke-width="1.1" stroke-linejoin="round"/>
<path d="M706,184.3 L784,184.5 C790,185 795,186.2 800,184 C815,180.5 826,176 844,176 C865,176 880,181.5 901.5,181.5" fill="none" stroke="#e2601c" stroke-width="3" stroke-linecap="round"/>
<path d="M797,189.3 C812,187.5 826,182 844,182 C865,182 880,187.5 901.5,187.5" fill="none" stroke="#17977a" stroke-width="3" stroke-linecap="round"/>
<path d="M767.6,184.4 C767.4,183.1 767.4,180.9 768.0,179.5 C768.6,178.1 769.8,177.0 771.1,176.0 C772.4,175.0 774.2,174.0 776.0,173.5 C777.8,173.0 779.9,173.1 782.0,173.1 C784.1,173.1 786.3,173.0 788.6,173.5 C790.9,174.0 793.6,175.1 795.6,176.0 C797.6,176.9 799.4,177.8 800.5,178.8 C801.6,179.9 802.1,181.1 802.2,182.3 C802.3,183.5 801.8,185.0 801.2,185.8 C800.6,186.6 799.6,187.2 798.4,187.2 C797.2,187.2 795.6,186.5 794.2,185.8 C792.8,185.1 791.4,183.6 790.0,183.0 C788.6,182.4 786.8,182.1 785.8,182.3 C784.8,182.5 784.1,183.4 783.7,184.4 C783.3,185.4 783.6,187.5 783.3,188.6 C782.9,189.7 782.5,190.6 781.6,191.0 C780.7,191.4 779.5,191.3 778.1,191.0 C776.7,190.7 774.7,189.9 773.2,189.3 C771.7,188.7 769.9,188.0 769.0,187.2 C768.1,186.4 767.8,185.7 767.6,184.4Z" fill="#f1f1f1" stroke="#5e5e5e" stroke-width="1.1" stroke-linejoin="round"/>
<text x="531.4" y="168.3" font-size="13.6" fill="#111">RDR</text>
<text x="768" y="171.3" font-size="13.6" fill="#111">RDR</text>
<line x1="572.0" y1="178.0" x2="583.0" y2="178.0" stroke="#a2a2a2" stroke-width="3.0"/><path d="M590.0,178.0 L583.0,183.0 L583.0,178.0 L583.0,173.0 Z" fill="#a2a2a2"/>
<line x1="760.0" y1="192.5" x2="748.0" y2="192.5" stroke="#a2a2a2" stroke-width="3.0"/><path d="M741.0,192.5 L748.0,187.5 L748.0,192.5 L748.0,197.5 Z" fill="#a2a2a2"/>
<path d="M631,208 L691,208 L678,229 L684,231.5 L662,251.5 L640,231.5 L646,229 Z" fill="url(#gArrow)"/>
<text x="351.5" y="217.5" font-size="14" fill="#666"><tspan>Second strand synthesis by </tspan><tspan font-weight="bold" fill="#555">RNA-dependent RNA polymerase (RDR)</tspan></text>
<text x="532.5" y="254" font-size="15.3" fill="#a82024">Dcl1</text>
<rect x="580" y="256" width="32" height="12" fill="#f3c6c6" stroke="#9a5a5a" stroke-width="0.8"/>
<path d="M578.5,256 C576,249 580,242.5 589,242.5 C595,242.5 597,248.5 601,248.5 C605,248.5 607,245.5 611,246.5 C616,248 616,255 613,259 C605,258 590,260 580,259.5 Z" fill="#e0686c" stroke="#8f4848" stroke-width="1"/>
<path d="M580.5,267.5 C586,265.5 595,267 600,268.5 C605,267 609,265.5 612.5,267 C614,270 613.5,275 611.5,277.5 C605,279.5 589,279.5 583,277.5 C580.5,275.5 580,271 580.5,267.5Z" fill="#e0686c" stroke="#8f4848" stroke-width="1"/>
<path d="M553,262.8 C580,260.8 600,261.5 630,262.8 C660,264 700,263.5 748,261.3" fill="none" stroke="#e2601c" stroke-width="3" stroke-linecap="round"/>
<path d="M553,268.8 C580,266.8 600,267.5 630,269 C660,270.5 700,270 748,267.3" fill="none" stroke="#17977a" stroke-width="3" stroke-linecap="round"/>
<text x="754" y="262" font-size="16.4" fill="#111">Double-stranded RNA</text>
<path d="M542,266.6 C534,267.5 528,272 524.8,278.8" fill="none" stroke="#787878" stroke-width="3.6"/>
<path d="M521.3,287.4 L520,276.6 L529.8,280.6 Z" fill="#787878"/>
<text x="353" y="295" font-size="16.4" fill="#1a1a1a">30 bp small RNA</text>
<text x="387" y="313" font-size="16.4" fill="#1a1a1a">(sRNA)</text>
<path d="M465.3,308.4 c3.0,-2 7.0,-2 12.0,0.5 s10.0,3 17.0,-1" fill="none" stroke="#e2601c" stroke-width="2.4" stroke-linecap="round"/><path d="M465.3,312.2 c3.0,-2 7.0,-2 12.0,0.5 s10.0,3 17.0,-1" fill="none" stroke="#17977a" stroke-width="2.4" stroke-linecap="round"/>
<path d="M496.8,294.2 c3.0,-2 7.0,-2 12.0,0.5 s10.0,3 17.0,-1" fill="none" stroke="#e2601c" stroke-width="2.4" stroke-linecap="round"/><path d="M496.8,298.0 c3.0,-2 7.0,-2 12.0,0.5 s10.0,3 17.0,-1" fill="none" stroke="#17977a" stroke-width="2.4" stroke-linecap="round"/>
<path d="M534.0,308.4 c3.0,-2 7.0,-2 12.0,0.5 s10.0,3 17.0,-1" fill="none" stroke="#e2601c" stroke-width="2.4" stroke-linecap="round"/><path d="M534.0,312.2 c3.0,-2 7.0,-2 12.0,0.5 s10.0,3 17.0,-1" fill="none" stroke="#17977a" stroke-width="2.4" stroke-linecap="round"/>
<path d="M566.6,294.2 c3.0,-2 7.0,-2 12.0,0.5 s10.0,3 17.0,-1" fill="none" stroke="#e2601c" stroke-width="2.4" stroke-linecap="round"/><path d="M566.6,298.0 c3.0,-2 7.0,-2 12.0,0.5 s10.0,3 17.0,-1" fill="none" stroke="#17977a" stroke-width="2.4" stroke-linecap="round"/>
<text x="489" y="336.3" font-size="16.2" fill="#6c6c6c">Eviwi02</text>
<text x="474.3" y="353.5" font-size="16.1" fill="#6c6c6c">(or Eviwi01)</text>
<use href="#blob" transform="translate(566.5,321.5) scale(0.84,0.66)"/>
<path d="M595,305 C597,312 601,315.4 610,315.4 M595,325 C597,318 601,315.4 610,315.4 L633,315.4" fill="none" stroke="#777" stroke-width="1.8"/>
<path d="M639.5,315.4 L630,310.5 L630,320.3 Z" fill="#777"/>
<use href="#blob" transform="translate(648.4,296.4) scale(1.02,0.97)"/>
<path d="M655,311.5 C665,309 672,314 680,313.5 C684,313 687,310 689,309" fill="none" stroke="#e2601c" stroke-width="2.4" stroke-linecap="round"/>
<path d="M655,316 C665,313.5 672,318.5 680,318 C684,317.5 687,314.5 689,313.5" fill="none" stroke="#17977a" stroke-width="2.4" stroke-linecap="round"/>
<line x1="708.0" y1="315.0" x2="726.0" y2="315.0" stroke="#777" stroke-width="4.0"/><path d="M736.0,315.0 L726.0,320.5 L726.0,315.0 L726.0,309.5 Z" fill="#777"/>
<use href="#cx" transform="translate(734.0,275.6) scale(1.00)"/>
<use href="#cx" transform="translate(809.0,282.0) scale(1.00)"/>
<use href="#cx" transform="translate(774.0,315.5) scale(1.00)"/>
<text x="822" y="338" font-size="16.2" fill="#2a2a2a">30 nt sRNA-EVIWI</text>
<text x="822" y="352.3" font-size="16.2" fill="#2a2a2a">complex</text>
<rect x="299.5" y="367" width="687.5" height="357.5" rx="20" fill="#f3f5f1" stroke="#a6a6a6" stroke-width="1.5" stroke-dasharray="6 4"/>
<rect x="315" y="357.5" width="119" height="26.5" fill="#62905a"/>
<text x="321.5" y="379.5" font-size="23.4" fill="#fff">New MAC</text>
<path d="M840.5,357.5 C845,362 845.5,368 840,372.5" fill="none" stroke="#787878" stroke-width="3.8"/>
<path d="M832.7,380.7 L835.1,370 L843.4,376.7 Z" fill="#787878"/>
<path d="M315.5,531 L500,432 L576,432 L576,703.5 L315.5,703.5 Z" fill="url(#gGreen)"/>
<rect x="397" y="403.5" width="64.5" height="64" fill="url(#gPink)"/>
<rect x="582" y="403.5" width="97.5" height="64" fill="url(#gPink)"/>
<rect x="315.5" y="531" width="260.5" height="172.5" fill="#d8e6d1"/>
<text x="333.7" y="415.8" font-size="16.1" fill="#111">Diploid</text>
<text x="315" y="435.7" font-size="16.1" fill="#111">MIC DNA</text>
<text x="417.8" y="399" font-size="15.6" fill="#111">GSS</text>
<text x="621.6" y="400" font-size="15.6" fill="#111">GSS</text>
<g font-size="14.9" fill="#111"><text x="508.8" y="390">MDS</text><text x="767" y="389">MDS</text><text x="901" y="389">MDS</text></g>
<path d="M469.0,402.5 C469.0,397.5 471.0,395.5 475.0,395.5 L574.0,395.5 C578.0,395.5 580.0,397.5 580.0,402.5" fill="none" stroke="#111" stroke-width="1.4"/>
<path d="M684.0,402.5 C684.0,397.5 686.0,395.5 690.0,395.5 L850.5,395.5 C854.5,395.5 856.5,397.5 856.5,402.5" fill="none" stroke="#111" stroke-width="1.4"/>
<path d="M858.5,402.5 C858.5,397.5 860.5,395.5 864.5,395.5 L972.0,395.5 C976.0,395.5 978.0,397.5 978.0,402.5" fill="none" stroke="#111" stroke-width="1.4"/>
<use href="#cx" transform="translate(475.0,402.8) scale(0.80)"/>
<use href="#cx" transform="translate(508.5,402.8) scale(0.80)"/>
<use href="#cx" transform="translate(545.0,402.8) scale(0.80)"/>
<use href="#cx" transform="translate(704.5,402.8) scale(0.80)"/>
<use href="#cx" transform="translate(741.0,402.8) scale(0.80)"/>
<use href="#cx" transform="translate(777.6,402.8) scale(0.80)"/>
<use href="#cx" transform="translate(893.6,402.8) scale(0.80)"/>
<use href="#cx" transform="translate(930.0,402.8) scale(0.80)"/>
<rect x="470.0" y="428.0" width="510.0" height="5" fill="#f3f5f1" opacity="0.5"/>
<line x1="397" y1="426.8" x2="420" y2="426.8" stroke="#d4505f" stroke-width="3.2" stroke-dasharray="4 3.5"/>
<line x1="420" y1="426.8" x2="961" y2="426.8" stroke="#d4505f" stroke-width="3.2"/>
<line x1="963" y1="426.8" x2="979" y2="426.8" stroke="#d4505f" stroke-width="3.2" stroke-dasharray="4 3.5"/>
<g font-size="12" fill="#d4505f"><text x="461.5" y="424.5">TA</text><text x="583" y="424.5">TA</text><text x="681" y="424.5">TA</text></g>
<g font-size="13.6" fill="#737373"><text x="395.7" y="453">Elimination</text><text x="604" y="453">Elimination</text></g>
<rect x="614.2" y="421.6" width="52.6" height="11" rx="1.8" fill="#e48c44" stroke="#a4602c" stroke-width="0.8"/>
<text x="640.5" y="430.6" font-size="10.5" fill="#fff" text-anchor="middle">TE</text>
<rect x="785" y="424" width="26" height="5.6" fill="#5459ae"/><rect x="899" y="424" width="26.6" height="5.6" fill="#5459ae"/>
<rect x="854.8" y="420.5" width="5.6" height="14" fill="#1332a8"/>
<text x="843" y="418.4" font-size="13.8" fill="#1332a8">CBS</text>
<g font-size="13.8" fill="#5459ae"><text x="778.4" y="444.4">E-CBS</text><text x="773" y="458">(TTCAA)</text><text x="893.6" y="444.4">E-CBS</text><text x="886.4" y="458">(TTGAA)</text></g>
<path d="M521,439 C540,462 575,476 607,480" fill="none" stroke="#222" stroke-width="1.3" stroke-dasharray="4 3"/>
<path d="M614,481.5 l-8,3 l1,-7.5z" fill="#222"/>
<path d="M740,445 C745,462 752,474 760,480" fill="none" stroke="#222" stroke-width="1.3" stroke-dasharray="4 3"/>
<path d="M765,484 l-8,-1.5 l4.5,-6z" fill="#222"/>
<path d="M965,445 C965,462 960,474 953,479" fill="none" stroke="#222" stroke-width="1.3" stroke-dasharray="4 3"/>
<path d="M948,484 l3.5,-7.5 l4.5,5.5z" fill="#222"/>
<use href="#cx" transform="translate(614.0,484.5) scale(0.80)"/><use href="#cx" transform="translate(650.0,484.5) scale(0.80)"/><use href="#cx" transform="translate(686.0,484.5) scale(0.80)"/><use href="#cx" transform="translate(740.0,484.5) scale(0.80)"/><use href="#cx" transform="translate(770.0,484.5) scale(0.80)"/><use href="#cx" transform="translate(801.0,484.5) scale(0.80)"/><use href="#cx" transform="translate(920.0,484.5) scale(0.80)"/><use href="#cx" transform="translate(948.0,484.5) scale(0.80)"/><rect x="612.0" y="509.7" width="372.0" height="5" fill="#f3f5f1" opacity="0.5"/><line x1="613.6" y1="508.5" x2="722.5" y2="508.5" stroke="#d4505f" stroke-width="3.2"/><line x1="737.5" y1="508.5" x2="978.0" y2="508.5" stroke="#d4505f" stroke-width="3.2"/><text x="594.7" y="509.3" font-size="14.3" fill="#d4505f">TA</text><text x="723.0" y="509.3" font-size="14.3" fill="#d4505f">TA</text><rect x="808.0" y="505.5" width="26.0" height="6" fill="#5459ae"/><rect x="923.5" y="505.5" width="26.5" height="6" fill="#5459ae"/><rect x="876" y="501.5" width="6" height="14" fill="#1332a8"/>
<text x="820.5" y="535.5" font-size="14" fill="#888">DNA fragmentation</text>
<path d="M862.7,537.5 L897,537.5 L880,551 Z" fill="url(#gTri)"/>
<use href="#cx" transform="translate(614.0,546.7) scale(0.80)"/><use href="#cx" transform="translate(650.0,546.7) scale(0.80)"/><use href="#cx" transform="translate(686.0,546.7) scale(0.80)"/><use href="#cx" transform="translate(740.0,546.7) scale(0.80)"/><use href="#cx" transform="translate(770.0,546.7) scale(0.80)"/><use href="#cx" transform="translate(801.0,546.7) scale(0.80)"/><rect x="612.0" y="571.9" width="225.0" height="5" fill="#f3f5f1" opacity="0.5"/><line x1="613.6" y1="570.7" x2="722.5" y2="570.7" stroke="#d4505f" stroke-width="3.2"/><line x1="737.5" y1="570.7" x2="878.0" y2="570.7" stroke="#d4505f" stroke-width="3.2"/><text x="594.7" y="571.5" font-size="14.3" fill="#d4505f">TA</text><text x="723.0" y="571.5" font-size="14.3" fill="#d4505f">TA</text><rect x="808.0" y="567.7" width="26.0" height="6" fill="#5459ae"/><rect x="876" y="563.7" width="6" height="14" fill="#1332a8"/><ellipse cx="899.0" cy="570.7" rx="16.5" ry="7" fill="#e6904a" stroke="#222" stroke-width="1"/><text x="899.0" y="574.5" font-size="11.5" fill="#111" text-anchor="middle">Telo.</text>
<use href="#cx" transform="translate(920.0,579.6) scale(0.80)"/><use href="#cx" transform="translate(948.0,579.6) scale(0.80)"/><rect x="918.0" y="604.8" width="66.0" height="5" fill="#f3f5f1" opacity="0.5"/><line x1="878.0" y1="603.6" x2="978.0" y2="603.6" stroke="#d4505f" stroke-width="3.2"/><rect x="923.5" y="600.6" width="26.5" height="6" fill="#5459ae"/><rect x="876" y="596.6" width="6" height="14" fill="#1332a8"/><ellipse cx="859.0" cy="603.6" rx="16.5" ry="7" fill="#e6904a" stroke="#222" stroke-width="1"/><text x="859.0" y="607.4" font-size="11.5" fill="#111" text-anchor="middle">Telo.</text>
<text x="634.6" y="607.8" font-size="16.4" fill="#111">New nanochromosomes</text>
<line x1="816.0" y1="597.5" x2="822.1" y2="593.6" stroke="#111" stroke-width="1.6"/><path d="M825.5,591.5 L823.7,596.2 L822.1,593.6 L820.5,591.1 Z" fill="#111"/>
<line x1="817.0" y1="605.0" x2="824.5" y2="605.0" stroke="#111" stroke-width="1.6"/><path d="M828.5,605.0 L824.5,608.0 L824.5,605.0 L824.5,602.0 Z" fill="#111"/>
<path d="M934.4,615.5 C941,622 943.5,633 938,642" fill="none" stroke="#787878" stroke-width="3.6"/>
<path d="M932.2,650.5 L932.5,640 L941.5,645.3 Z" fill="#787878"/>
<use href="#cx" transform="translate(685.4,633.4) scale(0.87)"/><path d="M719.1,647.4 L723.0,646.5" stroke="#e2601c" stroke-width="2.4"/><path d="M725.0,635.9 L731.3,640.5 L728.9,647.8 L721.1,647.8 L718.7,640.5Z" fill="#fff" stroke="#e2601c" stroke-width="2.2" stroke-linejoin="round"/><text x="725.0" y="646.3" font-size="10" font-weight="bold" fill="#111" text-anchor="middle">A</text>
<use href="#cx" transform="translate(750.2,643.6) scale(0.87)"/><path d="M783.9,657.6 L788.0,657.0" stroke="#e2601c" stroke-width="2.4"/><path d="M790.0,646.4 L796.3,651.0 L793.9,658.3 L786.1,658.3 L783.7,651.0Z" fill="#fff" stroke="#e2601c" stroke-width="2.2" stroke-linejoin="round"/><text x="790.0" y="656.8" font-size="10" font-weight="bold" fill="#111" text-anchor="middle">A</text>
<use href="#cx" transform="translate(811.0,632.5) scale(0.87)"/><path d="M844.7,646.5 L850.0,646.5" stroke="#e2601c" stroke-width="2.4"/><path d="M852.0,635.9 L858.3,640.5 L855.9,647.8 L848.1,647.8 L845.7,640.5Z" fill="#fff" stroke="#e2601c" stroke-width="2.2" stroke-linejoin="round"/><text x="852.0" y="646.3" font-size="10" font-weight="bold" fill="#111" text-anchor="middle">A</text>
<use href="#cx" transform="translate(866.0,652.0) scale(0.87)"/><path d="M899.7,666.0 L904.0,665.5" stroke="#e2601c" stroke-width="2.4"/><path d="M906.0,654.9 L912.3,659.5 L909.9,666.8 L902.1,666.8 L899.7,659.5Z" fill="#fff" stroke="#e2601c" stroke-width="2.2" stroke-linejoin="round"/><text x="906.0" y="665.3" font-size="10" font-weight="bold" fill="#111" text-anchor="middle">A</text>
<g font-size="16.3" fill="#a81c20" text-anchor="middle"><text x="771.3" y="695.7">Non-templated adenylation</text><text x="771.9" y="713.6">at 3` of 30 nt sRNA</text></g>
<text x="888.7" y="703.4" font-size="13.8" fill="#777">Degradation</text>
<text x="963" y="706.5" font-size="26" font-style="italic" fill="#d42020" stroke="#d42020" stroke-width="0.6">?</text>
<text x="356.6" y="526.8" font-size="16.4" fill="#111">Tolerance of heterozygosity</text>
<text x="351.3" y="562.2" font-size="14" fill="#d9707c">Allele 1</text>
<text x="328.7" y="626.5" font-size="14" fill="#5a5cae">Allele 2</text>
<text x="372.7" y="683.6" font-size="14" fill="#b0222a">Substitution</text>
<use href="#blob" transform="translate(434.7,559.6) scale(1.31,1.37)"/>
<g fill="none" stroke-width="2.6"><path d="M344.5,575.0 L345.2,575.0 L345.9,575.2 L346.6,575.4 L347.3,575.6 L348.0,576.0 L348.7,576.4 L349.4,576.9 L350.1,577.4 L350.8,577.9 L351.5,578.5 L352.2,579.1 L352.9,579.7 L353.6,580.3 L354.3,580.9 L355.0,581.5 L355.7,582.0 L356.4,582.5 L357.1,582.9 L357.8,583.3 L358.5,583.6 L359.2,583.8 L359.9,583.9 L360.6,584.0 L361.3,584.0 L362.0,583.9 L362.7,583.7 L363.4,583.4 L364.1,583.1 L364.8,582.7 L365.5,582.2 L366.2,581.7 L366.9,581.2 L367.6,580.6 L368.3,580.0 L369.0,579.4 L369.7,578.8 L370.4,578.2 L371.1,577.6 L371.8,577.1 L372.5,576.6 L373.2,576.2 L373.9,575.8 L374.6,575.5 L375.3,575.2 L376.0,575.1 L376.7,575.0 L377.4,575.0 L378.1,575.1 L378.8,575.3 L379.5,575.5 L380.2,575.8 L380.9,576.2 L381.6,576.6 L382.3,577.1 L383.0,577.7 L383.7,578.2 L384.4,578.8 L385.1,579.4 L385.8,580.0 L386.5,580.6 L387.2,581.2 L387.9,581.8 L388.6,582.3 L389.3,582.7 L390.0,583.1 L390.7,583.4 L391.4,583.7 L392.1,583.9 L392.8,584.0" stroke="#a01818"/><path d="M528.6,584.0 L529.3,583.9 L530.0,583.7 L530.7,583.4 L531.4,582.9 L532.1,582.4 L532.8,581.7 L533.5,581.0 L534.2,580.2 L534.9,579.4 L535.6,578.6 L536.3,577.9 L537.0,577.2 L537.7,576.5 L538.4,576.0 L539.1,575.5 L539.8,575.2 L540.5,575.0 L541.2,575.0 L541.9,575.1 L542.6,575.3 L543.3,575.7 L544.0,576.2 L544.7,576.8 L545.4,577.4 L546.1,578.2 L546.8,578.9 L547.5,579.7 L548.2,580.5 L548.9,581.3 L549.6,582.0 L550.3,582.6 L551.0,583.1 L551.7,583.5 L552.4,583.8 L553.1,584.0 L553.8,584.0 L554.5,583.9 L555.2,583.6 L555.9,583.2 L556.6,582.7 L557.3,582.1 L558.0,581.4 L558.7,580.7 L559.4,579.9 L560.1,579.1 L560.8,578.3 L561.5,577.6 L562.2,576.9 L562.9,576.3 L563.6,575.8 L564.3,575.4 L565.0,575.1 L565.7,575.0" stroke="#a01818"/><path d="M344.5,584.0 L345.2,584.0 L345.9,583.8 L346.6,583.6 L347.3,583.4 L348.0,583.0 L348.7,582.6 L349.4,582.1 L350.1,581.6 L350.8,581.1 L351.5,580.5 L352.2,579.9 L352.9,579.3 L353.6,578.7 L354.3,578.1 L355.0,577.5 L355.7,577.0 L356.4,576.5 L357.1,576.1 L357.8,575.7 L358.5,575.4 L359.2,575.2 L359.9,575.1 L360.6,575.0 L361.3,575.0 L362.0,575.1 L362.7,575.3 L363.4,575.6 L364.1,575.9 L364.8,576.3 L365.5,576.8 L366.2,577.3 L366.9,577.8 L367.6,578.4 L368.3,579.0 L369.0,579.6 L369.7,580.2 L370.4,580.8 L371.1,581.4 L371.8,581.9 L372.5,582.4 L373.2,582.8 L373.9,583.2 L374.6,583.5 L375.3,583.8 L376.0,583.9 L376.7,584.0 L377.4,584.0 L378.1,583.9 L378.8,583.7 L379.5,583.5 L380.2,583.2 L380.9,582.8 L381.6,582.4 L382.3,581.9 L383.0,581.3 L383.7,580.8 L384.4,580.2 L385.1,579.6 L385.8,579.0 L386.5,578.4 L387.2,577.8 L387.9,577.2 L388.6,576.7 L389.3,576.3 L390.0,575.9 L390.7,575.6 L391.4,575.3 L392.1,575.1 L392.8,575.0" stroke="#e27a88"/><path d="M528.6,575.0 L529.3,575.1 L530.0,575.3 L530.7,575.6 L531.4,576.1 L532.1,576.6 L532.8,577.3 L533.5,578.0 L534.2,578.8 L534.9,579.6 L535.6,580.4 L536.3,581.1 L537.0,581.8 L537.7,582.5 L538.4,583.0 L539.1,583.5 L539.8,583.8 L540.5,584.0 L541.2,584.0 L541.9,583.9 L542.6,583.7 L543.3,583.3 L544.0,582.8 L544.7,582.2 L545.4,581.6 L546.1,580.8 L546.8,580.1 L547.5,579.3 L548.2,578.5 L548.9,577.7 L549.6,577.0 L550.3,576.4 L551.0,575.9 L551.7,575.5 L552.4,575.2 L553.1,575.0 L553.8,575.0 L554.5,575.1 L555.2,575.4 L555.9,575.8 L556.6,576.3 L557.3,576.9 L558.0,577.6 L558.7,578.3 L559.4,579.1 L560.1,579.9 L560.8,580.7 L561.5,581.4 L562.2,582.1 L562.9,582.7 L563.6,583.2 L564.3,583.6 L565.0,583.9 L565.7,584.0" stroke="#e27a88"/><path d="M393.3,575.0 C411.3,575.0 415.3,560.7 433.3,560.7 L488.6,560.7 C506.6,560.7 510.6,575.0 528.6,575.0" stroke="#e27a88"/><path d="M393.3,584.0 C411.3,584.0 415.3,599.0 433.3,599.0 L488.6,599.0 C506.6,599.0 510.6,584.0 528.6,584.0" stroke="#a01818"/></g>
<path d="M435.8,582.0 v6.5 M439.3,582.0 v6.5 M442.8,582.0 v6.5 M446.3,582.0 v6.5 M449.8,582.0 v6.5 M453.3,582.0 v6.5 M456.8,582.0 v6.5 M460.3,582.0 v6.5 M463.8,582.0 v6.5 M467.3,582.0 v6.5 M470.8,582.0 v6.5 M474.3,582.0 v6.5 M477.8,582.0 v6.5 M481.3,582.0 v6.5 M484.8,582.0 v6.5 " stroke="#f0922c" stroke-width="1.9"/><line x1="434.3" y1="581.0" x2="487.5" y2="581.0" stroke="#e4641a" stroke-width="2.6"/><path d="M437.5,598.0 v-7.5 M441.0,598.0 v-7.5 M444.5,598.0 v-7.5 M448.0,598.0 v-7.5 M451.5,598.0 v-7.5 M455.0,598.0 v-7.5 M458.5,598.0 v-7.5 M462.0,598.0 v-7.5 M465.5,598.0 v-7.5 M469.0,598.0 v-7.5 M472.5,598.0 v-7.5 M476.0,598.0 v-7.5 M479.5,598.0 v-7.5 M483.0,598.0 v-7.5 " stroke="#9a9c98" stroke-width="1.9"/>
<use href="#blob" transform="translate(416,621.6) scale(1.31,1.37)"/>
<g fill="none" stroke-width="2.6"><path d="M327.6,637.8 L328.3,637.8 L329.0,638.0 L329.7,638.2 L330.4,638.5 L331.1,638.9 L331.8,639.3 L332.5,639.8 L333.2,640.4 L333.9,640.9 L334.6,641.6 L335.3,642.2 L336.0,642.8 L336.7,643.4 L337.4,644.0 L338.1,644.6 L338.8,645.1 L339.5,645.6 L340.2,646.0 L340.9,646.3 L341.6,646.6 L342.3,646.7 L343.0,646.8 L343.7,646.8 L344.4,646.7 L345.1,646.5 L345.8,646.2 L346.5,645.9 L347.2,645.5 L347.9,645.0 L348.6,644.5 L349.3,643.9 L350.0,643.3 L350.7,642.7 L351.4,642.0 L352.1,641.4 L352.8,640.8 L353.5,640.2 L354.2,639.7 L354.9,639.2 L355.6,638.8 L356.3,638.4 L357.0,638.1 L357.7,637.9 L358.4,637.8 L359.1,637.8 L359.8,637.9 L360.5,638.0 L361.2,638.3 L361.9,638.6 L362.6,639.0 L363.3,639.4 L364.0,639.9 L364.7,640.5 L365.4,641.1 L366.1,641.7 L366.8,642.3 L367.5,643.0 L368.2,643.6 L368.9,644.2 L369.6,644.7 L370.3,645.2 L371.0,645.7 L371.7,646.1 L372.4,646.4 L373.1,646.6 L373.8,646.7 L374.5,646.8" stroke="#141c88"/><path d="M511.7,646.8 L512.4,646.7 L513.1,646.5 L513.8,646.2 L514.5,645.7 L515.2,645.2 L515.9,644.5 L516.6,643.8 L517.3,643.0 L518.0,642.3 L518.7,641.5 L519.4,640.7 L520.1,640.0 L520.8,639.4 L521.5,638.8 L522.2,638.4 L522.9,638.0 L523.6,637.9 L524.3,637.8 L525.0,637.9 L525.7,638.1 L526.4,638.4 L527.1,638.9 L527.8,639.5 L528.5,640.1 L529.2,640.9 L529.9,641.6 L530.6,642.4 L531.3,643.2 L532.0,644.0 L532.7,644.7 L533.4,645.3 L534.1,645.8 L534.8,646.3 L535.5,646.6 L536.2,646.8 L536.9,646.8 L537.6,646.7 L538.3,646.5 L539.0,646.1 L539.7,645.6 L540.4,645.1 L541.1,644.4 L541.8,643.7 L542.5,642.9 L543.2,642.1 L543.9,641.3 L544.6,640.6 L545.3,639.9 L546.0,639.3 L546.7,638.7 L547.4,638.3 L548.1,638.0 L548.8,637.8" stroke="#141c88"/><path d="M327.6,646.8 L328.3,646.8 L329.0,646.6 L329.7,646.4 L330.4,646.1 L331.1,645.7 L331.8,645.3 L332.5,644.8 L333.2,644.2 L333.9,643.7 L334.6,643.0 L335.3,642.4 L336.0,641.8 L336.7,641.2 L337.4,640.6 L338.1,640.0 L338.8,639.5 L339.5,639.0 L340.2,638.6 L340.9,638.3 L341.6,638.0 L342.3,637.9 L343.0,637.8 L343.7,637.8 L344.4,637.9 L345.1,638.1 L345.8,638.4 L346.5,638.7 L347.2,639.1 L347.9,639.6 L348.6,640.1 L349.3,640.7 L350.0,641.3 L350.7,641.9 L351.4,642.6 L352.1,643.2 L352.8,643.8 L353.5,644.4 L354.2,644.9 L354.9,645.4 L355.6,645.8 L356.3,646.2 L357.0,646.5 L357.7,646.7 L358.4,646.8 L359.1,646.8 L359.8,646.7 L360.5,646.6 L361.2,646.3 L361.9,646.0 L362.6,645.6 L363.3,645.2 L364.0,644.7 L364.7,644.1 L365.4,643.5 L366.1,642.9 L366.8,642.3 L367.5,641.6 L368.2,641.0 L368.9,640.4 L369.6,639.9 L370.3,639.4 L371.0,638.9 L371.7,638.5 L372.4,638.2 L373.1,638.0 L373.8,637.9 L374.5,637.8" stroke="#9294e4"/><path d="M511.7,637.8 L512.4,637.9 L513.1,638.1 L513.8,638.4 L514.5,638.9 L515.2,639.4 L515.9,640.1 L516.6,640.8 L517.3,641.6 L518.0,642.3 L518.7,643.1 L519.4,643.9 L520.1,644.6 L520.8,645.2 L521.5,645.8 L522.2,646.2 L522.9,646.6 L523.6,646.7 L524.3,646.8 L525.0,646.7 L525.7,646.5 L526.4,646.2 L527.1,645.7 L527.8,645.1 L528.5,644.5 L529.2,643.7 L529.9,643.0 L530.6,642.2 L531.3,641.4 L532.0,640.6 L532.7,639.9 L533.4,639.3 L534.1,638.8 L534.8,638.3 L535.5,638.0 L536.2,637.8 L536.9,637.8 L537.6,637.9 L538.3,638.1 L539.0,638.5 L539.7,639.0 L540.4,639.5 L541.1,640.2 L541.8,640.9 L542.5,641.7 L543.2,642.5 L543.9,643.3 L544.6,644.0 L545.3,644.7 L546.0,645.3 L546.7,645.9 L547.4,646.3 L548.1,646.6 L548.8,646.8" stroke="#9294e4"/><path d="M374.6,637.8 C392.6,637.8 396.6,622.3 414.6,622.3 L471.7,622.3 C489.7,622.3 493.7,637.8 511.7,637.8" stroke="#9294e4"/><path d="M374.6,646.8 C392.6,646.8 396.6,661.0 414.6,661.0 L471.7,661.0 C489.7,661.0 493.7,646.8 511.7,646.8" stroke="#141c88"/></g>
<path d="M417.5,645.0 v6.5 M421.0,645.0 v6.5 M424.5,645.0 v6.5 M428.0,645.0 v6.5 M431.5,645.0 v6.5 M435.0,645.0 v6.5 M438.5,645.0 v6.5 M442.0,645.0 v6.5 M445.5,645.0 v6.5 M449.0,645.0 v6.5 M452.5,645.0 v6.5 M456.0,645.0 v6.5 M459.5,645.0 v6.5 M463.0,645.0 v6.5 " stroke="#f0922c" stroke-width="1.9"/><line x1="416.0" y1="644.0" x2="466.0" y2="644.0" stroke="#e4641a" stroke-width="2.6"/><path d="M419.2,660.0 v-7.5 M422.7,660.0 v-7.5 M426.2,660.0 v-7.5 M429.7,660.0 v-7.5 M433.2,660.0 v-7.5 M436.7,660.0 v-7.5 M440.2,660.0 v-7.5 M443.7,660.0 v-7.5 M447.2,660.0 v-7.5 M450.7,660.0 v-7.5 M454.2,660.0 v-7.5 M457.7,660.0 v-7.5 M461.2,660.0 v-7.5 M464.7,660.0 v-7.5 " stroke="#9a9c98" stroke-width="1.9"/><line x1="442.2" y1="652.5" x2="442.2" y2="660.5" stroke="#2030c0" stroke-width="2"/>
<line x1="439.5" y1="675.0" x2="441.8" y2="668.7" stroke="#c0202a" stroke-width="1.8"/><path d="M443.5,664.0 L445.1,669.9 L441.8,668.7 L438.5,667.5 Z" fill="#c0202a"/>
<g stroke="#a8a8a8" stroke-width="1.4" stroke-dasharray="6 4" fill="none">
<line x1="299" y1="53" x2="212.5" y2="268"/>
<line x1="303.5" y1="219" x2="235" y2="329"/>
<line x1="298.5" y1="385" x2="197" y2="556"/>
<line x1="193" y1="596" x2="299" y2="708"/>
</g>
</svg>
</body></html>
